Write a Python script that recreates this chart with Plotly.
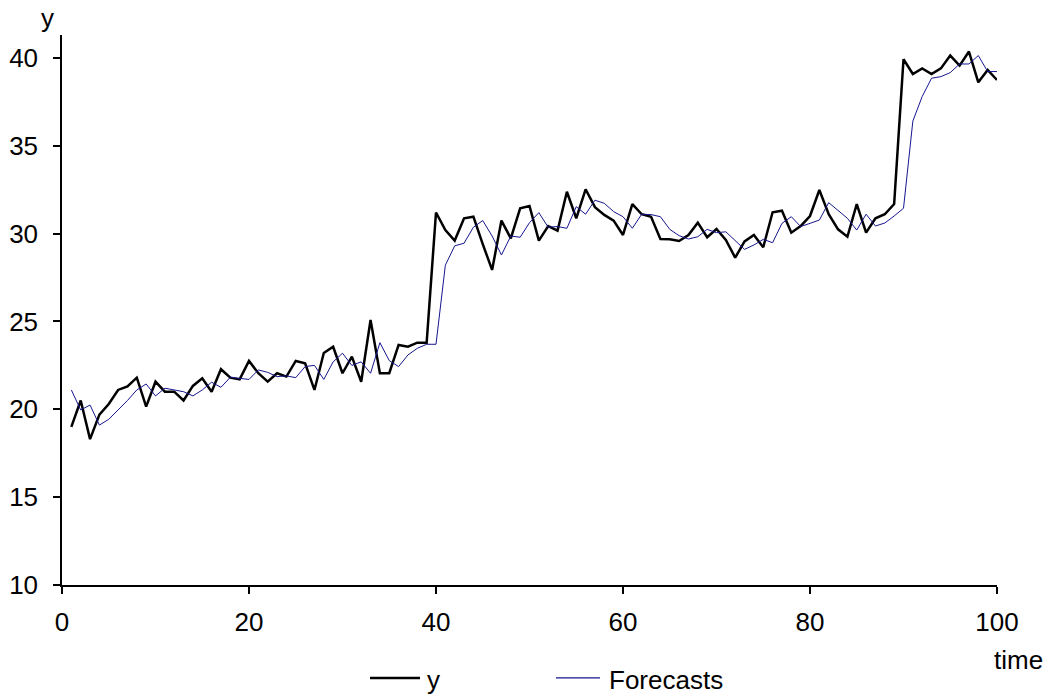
import plotly.graph_objects as go

time = list(range(1, 101))

y_values = [
    19.0, 20.5, 18.3, 19.7, 20.3, 21.1, 21.3, 21.8, 20.15, 21.57,
    21.0, 21.0, 20.5, 21.33, 21.76, 21.0, 22.28, 21.8, 21.7, 22.75,
    22.05, 21.57, 22.05, 21.86, 22.75, 22.62, 21.1, 23.2, 23.56, 22.05,
    23.0, 21.57, 25.08, 22.05, 22.05, 23.66, 23.56, 23.79, 23.79, 31.2,
    30.2, 29.6, 30.87, 30.96, 29.4, 27.93, 30.74, 29.73, 31.44, 31.57,
    29.6, 30.43, 30.17, 32.38, 30.87, 32.52, 31.5, 31.06, 30.74, 29.92,
    31.68, 31.1, 30.96, 29.69, 29.67, 29.58, 29.92, 30.62, 29.79, 30.26,
    29.64, 28.63, 29.55, 29.92, 29.22, 31.21, 31.3, 30.05, 30.43, 31.0,
    32.48, 31.1, 30.24, 29.82, 31.68, 30.05, 30.87, 31.1, 31.68, 39.92,
    39.08, 39.4, 39.08, 39.4, 40.13, 39.56, 40.36, 38.61, 39.31, 38.74,
]

forecasts = [
    21.1, 19.96, 20.24, 19.1, 19.43, 19.96, 20.5, 21.1, 21.44, 20.76,
    21.2, 21.1, 21.0, 20.76, 21.1, 21.54, 21.25, 21.82, 21.76, 21.7,
    22.24, 22.1, 21.86, 21.9, 21.8, 22.43, 22.5, 21.7, 22.7, 23.19,
    22.5, 22.7, 22.05, 23.79, 22.77, 22.43, 23.09, 23.47, 23.7, 23.7,
    28.2, 29.3, 29.45, 30.36, 30.74, 29.86, 28.78, 29.86, 29.79, 30.62,
    31.19, 30.36, 30.4, 30.3, 31.53, 31.1, 31.9, 31.72, 31.25, 30.96,
    30.3, 31.1, 31.08, 30.96, 30.24, 29.88, 29.69, 29.82, 30.24, 30.05,
    30.1, 29.6, 29.1, 29.35, 29.67, 29.48, 30.58, 30.96, 30.4, 30.58,
    30.77, 31.76, 31.34, 30.87, 30.2, 31.1, 30.43, 30.6, 31.0, 31.44,
    36.4, 37.8, 38.84, 38.93, 39.16, 39.65, 39.65, 40.13, 39.22, 39.22,
]

x_ticks = [0, 20, 40, 60, 80, 100]
y_ticks = [10, 15, 20, 25, 30, 35, 40]
series_names = ["y", "Forecasts"]
series_colors = ["black", "#15158f"]

FONT = "Liberation Sans, Arial, sans-serif"
FS = 26

fig = go.Figure()
fig.add_trace(go.Scatter(
    x=time, y=y_values, mode="lines", name=series_names[0],
    line=dict(color=series_colors[0], width=2.5),
))
fig.add_trace(go.Scatter(
    x=time, y=forecasts, mode="lines", name=series_names[1],
    line=dict(color=series_colors[1], width=1),
))

# manual legend (line sample + label) below the plot
legend_items = [
    dict(x0=0.3294, x1=0.3829, tx=0.3882, w=2.5),
    dict(x0=0.5283, x1=0.5754, tx=0.5829, w=1.2),
]
shapes = []
annotations = []
LY = -0.169
for name, col, it in zip(series_names, series_colors, legend_items):
    shapes.append(dict(type="line", xref="paper", yref="paper",
                       x0=it["x0"], x1=it["x1"], y0=LY, y1=LY,
                       line=dict(color=col, width=it["w"])))
    annotations.append(dict(text=name, xref="paper", yref="paper",
                            x=it["tx"], y=LY - 0.004, xanchor="left", yanchor="middle",
                            showarrow=False,
                            font=dict(family=FONT, size=FS, color="black")))

annotations += [
    dict(text="y", xref="paper", yref="paper", x=-0.015, y=1.031,
         xanchor="center", yanchor="middle", showarrow=False,
         font=dict(family=FONT, size=FS, color="black")),
    dict(text="time", xref="paper", yref="paper", x=1.0225, y=-0.136,
         xanchor="center", yanchor="middle", showarrow=False,
         font=dict(family=FONT, size=FS, color="black")),
]

fig.update_layout(
    width=1050, height=698,
    margin=dict(l=62, r=53, t=35, b=113),
    paper_bgcolor="white", plot_bgcolor="white",
    font=dict(family=FONT, size=FS, color="black"),
    showlegend=False,
    xaxis=dict(
        range=[0, 100], tickvals=x_ticks, ticktext=[str(v) for v in x_ticks],
        showgrid=False, zeroline=False, showline=True, linecolor="black", linewidth=1.5,
        ticks="outside", ticklen=7, tickcolor="black", tickwidth=1.5,
        ticklabelstandoff=6, automargin=False,
        tickfont=dict(family=FONT, size=FS, color="black"),
    ),
    yaxis=dict(
        range=[10, 41.3], tickvals=y_ticks, ticktext=[str(v) for v in y_ticks],
        showgrid=False, zeroline=False, showline=True, linecolor="black", linewidth=1.5,
        ticks="outside", ticklen=7, tickcolor="black", tickwidth=1.5,
        ticklabelstandoff=10, automargin=False,
        tickfont=dict(family=FONT, size=FS, color="black"),
    ),
    shapes=shapes,
    annotations=annotations,
)

fig.write_html(
    "out.html",
    config={"displayModeBar": False},
    post_script="document.body.style.margin='0';document.body.style.padding='0';document.body.style.overflow='hidden';",
)
